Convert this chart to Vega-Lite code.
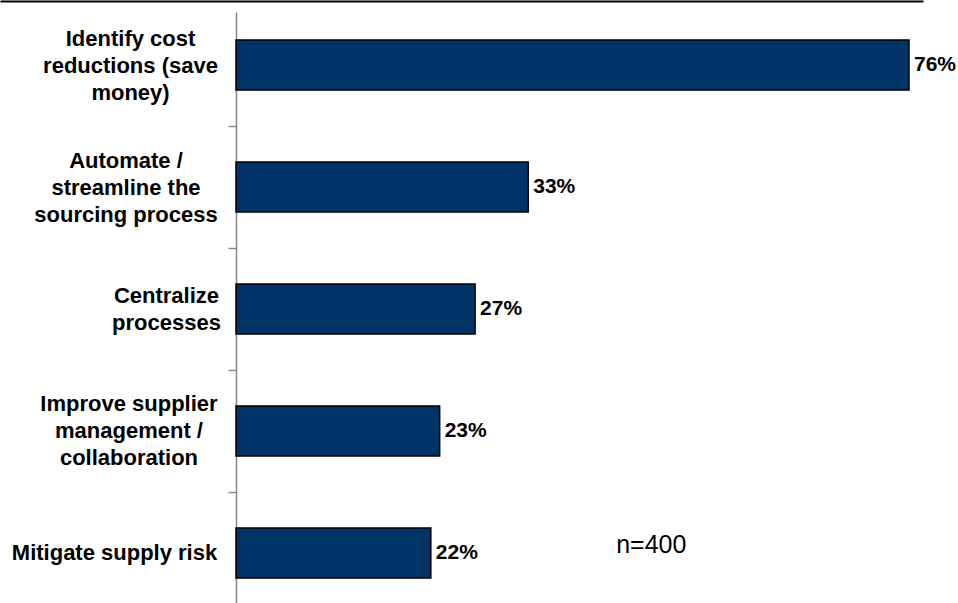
{
  "$schema": "https://vega.github.io/schema/vega-lite/v6.json",
  "width": 923,
  "height": 594,
  "autosize": {"type": "none"},
  "padding": {"top": 12, "left": 0, "right": 35, "bottom": 0},
  "background": "white",
  "config": {"view": {"stroke": null}, "font": "Liberation Sans"},
  "data": {"values": [
    {"category": "Identify cost|reductions (save|money)", "pct": 0.76},
    {"category": "Automate /|streamline the|sourcing process", "pct": 0.33},
    {"category": "Centralize|processes", "pct": 0.27},
    {"category": "Improve supplier|management /|collaboration", "pct": 0.23},
    {"category": "Mitigate supply risk", "pct": 0.22}
  ]},
  "layer": [
    {
      "mark": {"type": "bar", "color": "#003366", "stroke": "#000000", "strokeWidth": 1.5},
      "encoding": {
        "y": {
          "field": "category", "type": "nominal", "sort": null,
          "scale": {"paddingInner": 0.59, "paddingOuter": 0.2295},
          "axis": {
            "title": null, "orient": "left", "offset": -236,
            "domainColor": "#888888", "domainWidth": 1.5,
            "tickColor": "#888888", "tickWidth": 1.5, "tickSize": 8,
            "tickOffset": 61,
            "labelOffset": {"condition": [
              {"test": "length(split(datum.value, '|')) == 3", "value": -88},
              {"test": "length(split(datum.value, '|')) == 2", "value": -74.5}
            ], "value": -61},
            "labelPadding": {"condition": [
              {"test": "datum.value === 'Centralize|processes'", "value": 62},
              {"test": "datum.value === 'Mitigate supply risk'", "value": 114},
              {"test": "datum.value === 'Automate /|streamline the|sourcing process'", "value": 102.5},
              {"test": "datum.value === 'Identify cost|reductions (save|money)'", "value": 98}
            ], "value": 99.5},
            "labelAlign": "center", "labelBaseline": "middle",
            "labelFont": "Liberation Sans", "labelFontSize": 22, "labelFontWeight": "bold",
            "labelColor": "#000000", "labelLineHeight": 27, "labelLimit": 0, "labelOverlap": false,
            "labelExpr": "split(datum.value, '|')"
          }
        },
        "x": {
          "field": "pct", "type": "quantitative",
          "scale": {"domain": [-0.2665, 0.7758], "nice": false, "zero": false},
          "axis": {"orient": "top", "offset": 11, "domainColor": "#000000", "domainWidth": 2, "ticks": false, "labels": false, "grid": false, "title": null}
        },
        "x2": {"datum": 0}
      }
    },
    {
      "mark": {"type": "text", "align": "left", "baseline": "middle", "dx": 5, "fontSize": 21, "fontWeight": "bold", "color": "#000000", "font": "Liberation Sans"},
      "encoding": {
        "y": {"field": "category", "type": "nominal", "sort": null},
        "x": {"field": "pct", "type": "quantitative"},
        "text": {"field": "pct", "type": "quantitative", "format": ".0%"}
      }
    },
    {
      "data": {"values": [{"note": "n=400"}]},
      "mark": {"type": "text", "align": "center", "baseline": "middle", "dy": -8, "fontSize": 25, "color": "#000000", "font": "Liberation Sans"},
      "encoding": {
        "x": {"datum": 0.469, "type": "quantitative"},
        "y": {"datum": "Mitigate supply risk", "type": "nominal"},
        "text": {"field": "note", "type": "nominal"}
      }
    }
  ]
}
